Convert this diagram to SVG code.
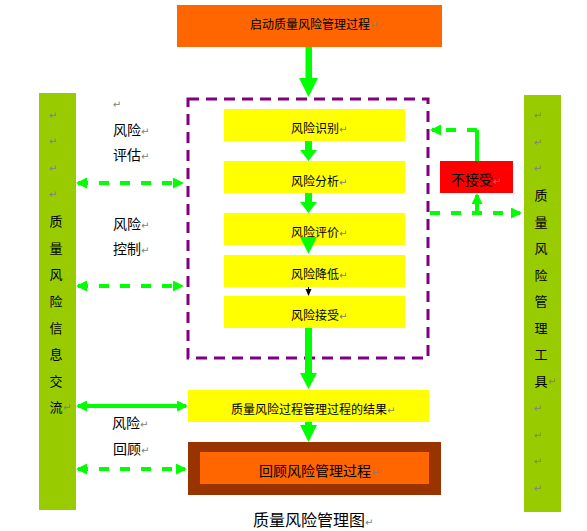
<svg xmlns="http://www.w3.org/2000/svg" width="587" height="531" viewBox="0 0 587 531">
<style>
text{font-family:"Noto Sans CJK SC","Noto Sans",sans-serif;fill:#000}
.t12{font-size:12px}.t13{font-size:13px}.t14{font-size:14px}.t16{font-size:16px}
.r{font-family:"DejaVu Sans",sans-serif;fill:#808080;font-size:10px}
.bar{fill:#99CC00}
.yel{fill:#FFFF00}
.g{stroke:#00FF00;stroke-width:4;fill:none}
.gd{stroke:#00FF00;stroke-width:4;fill:none;stroke-dasharray:10 11}
.blk{fill:#00FF00}
</style>
<defs>
<marker id="ah" markerUnits="userSpaceOnUse" markerWidth="12" markerHeight="12" refX="9" refY="5.5" orient="auto-start-reverse">
<path d="M0,0 L11,5.5 L0,11 z" fill="#00FF00"/>
</marker>
</defs>
<rect width="587" height="531" fill="#fff"/>

<g id="start">
<rect x="177" y="5" width="265" height="42" fill="#FF6600"/>
<text class="t12" x="250" y="29">启动质量风险管理过程<tspan class="r">↵</tspan></text>
</g>

<g id="comm-bar">
<rect class="bar" x="39" y="93" width="37" height="417"/>
<text class="r" x="53" y="119" text-anchor="middle">↵</text>
<text class="r" x="53" y="145" text-anchor="middle">↵</text>
<text class="r" x="53" y="172" text-anchor="middle">↵</text>
<text class="r" x="53" y="198" text-anchor="middle">↵</text>
<text class="t13" x="56" y="226" text-anchor="middle">质</text>
<text class="t13" x="56" y="253" text-anchor="middle">量</text>
<text class="t13" x="56" y="279" text-anchor="middle">风</text>
<text class="t13" x="56" y="306" text-anchor="middle">险</text>
<text class="t13" x="56" y="333" text-anchor="middle">信</text>
<text class="t13" x="56" y="359" text-anchor="middle">息</text>
<text class="t13" x="56" y="386" text-anchor="middle">交</text>
<text class="t13" x="56" y="412" text-anchor="middle">流</text>
<text class="r" x="63" y="411">↵</text>
</g>

<g id="tools-bar">
<rect class="bar" x="524" y="95" width="37" height="417"/>
<text class="r" x="538" y="119" text-anchor="middle">↵</text>
<text class="r" x="538" y="146" text-anchor="middle">↵</text>
<text class="r" x="538" y="172" text-anchor="middle">↵</text>
<text class="t13" x="541" y="200" text-anchor="middle">质</text>
<text class="t13" x="541" y="227" text-anchor="middle">量</text>
<text class="t13" x="541" y="253" text-anchor="middle">风</text>
<text class="t13" x="541" y="280" text-anchor="middle">险</text>
<text class="t13" x="541" y="306" text-anchor="middle">管</text>
<text class="t13" x="541" y="333" text-anchor="middle">理</text>
<text class="t13" x="541" y="359" text-anchor="middle">工</text>
<text class="t13" x="541" y="386" text-anchor="middle">具</text>
<text class="r" x="548" y="385">↵</text>
<text class="r" x="538" y="412" text-anchor="middle">↵</text>
<text class="r" x="538" y="439" text-anchor="middle">↵</text>
<text class="r" x="538" y="465" text-anchor="middle">↵</text>
<text class="r" x="538" y="492" text-anchor="middle">↵</text>
</g>

<g id="labels">
<text class="r" x="117" y="108" text-anchor="middle">↵</text>
<text class="t14" x="113" y="135">风险<tspan class="r">↵</tspan></text>
<text class="t14" x="113" y="160">评估<tspan class="r">↵</tspan></text>
<text class="t14" x="113" y="229">风险<tspan class="r">↵</tspan></text>
<text class="t14" x="113" y="254">控制<tspan class="r">↵</tspan></text>
<text class="t14" x="112" y="428">风险<tspan class="r">↵</tspan></text>
<text class="t14" x="113" y="454">回顾<tspan class="r">↵</tspan></text>
</g>

<g id="assessment-frame">
<rect x="188" y="99" width="240" height="259" fill="none" stroke="#800080" stroke-width="3" stroke-dasharray="11 7"/>
</g>

<g id="identify">
<rect class="yel" x="224" y="109" width="181" height="32"/>
<text class="t12" x="291" y="133">风险识别<tspan class="r">↵</tspan></text>
</g>
<g id="analyze">
<rect class="yel" x="224" y="161" width="181" height="32"/>
<text class="t12" x="291" y="186">风险分析<tspan class="r">↵</tspan></text>
</g>
<g id="evaluate">
<rect class="yel" x="224" y="213" width="181" height="32"/>
<text class="t12" x="291" y="237">风险评价<tspan class="r">↵</tspan></text>
</g>
<g id="reduce">
<rect class="yel" x="224" y="255" width="181" height="32"/>
<text class="t12" x="291" y="279">风险降低<tspan class="r">↵</tspan></text>
</g>
<g id="accept">
<rect class="yel" x="224" y="296" width="181" height="32"/>
<text class="t12" x="291" y="320">风险接受<tspan class="r">↵</tspan></text>
</g>

<g id="not-accept">
<rect x="440" y="161" width="73" height="32" fill="#FF0000"/>
<text class="t14" x="451" y="185">不接受<tspan class="r">↵</tspan></text>
</g>

<g id="result">
<rect class="yel" x="188" y="390" width="241" height="32"/>
<text class="t12" x="231" y="414">质量风险过程管理过程的结果<tspan class="r">↵</tspan></text>
</g>

<g id="review">
<rect x="188" y="442" width="253" height="53" fill="#993300"/>
<rect x="200" y="452" width="229" height="32" fill="#FF6600"/>
<text class="t14" x="259" y="476">回顾风险管理过程<tspan class="r">↵</tspan></text>
</g>

<g id="caption">
<text class="t16" x="253" y="526">质量风险管理图<tspan class="r">↵</tspan></text>
</g>

<g id="connectors">
<polygon class="blk" points="305.5,47 312,47 312,78 318,78 308.5,97 299,78 305.5,78"/>
<polygon class="blk" points="305,141 312,141 312,150 317,150 308.5,161 300,150 305,150"/>
<polygon class="blk" points="305,193 312,193 312,202 317,202 308.5,213 300,202 305,202"/>
<polygon class="blk" points="300,237 317,237 308.5,254"/>
<line x1="308.5" y1="287" x2="308.5" y2="290" stroke="#000" stroke-width="1"/>
<polygon points="305.5,289 311.5,289 308.5,296" fill="#000"/>
<polygon class="blk" points="305,328 312,328 312,373 317,373 308.5,389 300,373 305,373"/>
<polygon class="blk" points="305,422 312,422 312,425 317,425 308.5,442 300,425 305,425"/>

<path class="gd" d="M78,183 H182" marker-start="url(#ah)" marker-end="url(#ah)"/>
<path class="gd" d="M78,286 H182" marker-start="url(#ah)" marker-end="url(#ah)"/>
<path class="g" d="M78,406 H186" marker-start="url(#ah)" marker-end="url(#ah)"/>
<path class="gd" d="M78,469 H185" marker-start="url(#ah)" marker-end="url(#ah)"/>

<path class="g" d="M477,161 V130"/>
<path class="gd" d="M477,130 H432" marker-end="url(#ah)"/>
<path class="gd" d="M430,213 H520" marker-end="url(#ah)"/>
<path class="g" d="M477,213 V195" marker-end="url(#ah)"/>
</g>
</svg>
